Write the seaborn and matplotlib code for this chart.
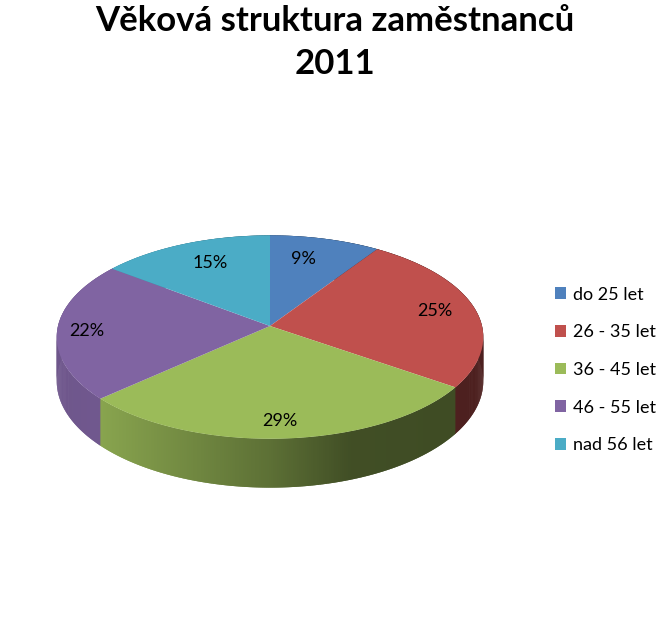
import numpy as np
import matplotlib
matplotlib.use("Agg")
import matplotlib.pyplot as plt
from matplotlib.transforms import Transform
import seaborn as sns

categories = ["do 25 let", "26 - 35 let", "36 - 45 let", "46 - 55 let", "nad 56 let"]
values = [9.3, 25.4, 28.6, 22.1, 14.6]
hex_colors = ["#4F81BD", "#C0504D", "#9BBB59", "#8064A2", "#4BACC6"]
title = "Věková struktura zaměstnanců\n2011"

sns.set_theme(style="white")
plt.rcParams["font.family"] = ["Lato", "DejaVu Sans"]
palette = sns.color_palette(hex_colors)

W, H = 666, 630
CX, CY = 270, 326      # pie apex in pixels
RX, RY, K = 212.0, 100.5, 0.109   # perspective of the tilted disc
DEPTH = 43.5
label_nudge = [(-12, 4), (1, 0), (-2, 7), (-13, 2), (10, 4)]


class Tilt(Transform):
    input_dims = output_dims = 2
    is_separable = False

    def transform_non_affine(self, xy):
        xy = np.asarray(xy, float)
        d = 1 + K * xy[:, 1]
        return np.column_stack([RX * xy[:, 0] / d, RY * xy[:, 1] / d])


def shade(xpix):
    """Wall brightness along the screen x (pixel offset from the apex)."""
    return np.interp(xpix, [-213, -170, 0, 80, 213], [0.86, 0.88, 0.60, 0.42, 0.40])


fig = plt.figure(figsize=(W / 100, H / 100), dpi=100, facecolor="white")
ax = fig.add_axes([0, 0, 1, 1])

wedges, _, pct = ax.pie(values, colors=palette, startangle=90, counterclock=False,
                        autopct="%.0f%%", pctdistance=0.8, radius=1,
                        textprops=dict(fontsize=13, color="black"),
                        wedgeprops=dict(linewidth=0, zorder=5))
ax.set_aspect("auto")
ax.set_xlim(-CX, W - CX)
ax.set_ylim(-(H - CY), CY)
ax.axis("off")

tilt = Tilt()
for w in wedges:
    w.set_transform(tilt + ax.transData)
for t, (dx, dy) in zip(pct, label_nudge):
    x, y = tilt.transform(np.array([t.get_position()]))[0]
    t.set_position((x + dx, y - dy))
    t.set_zorder(8)

# side wall: overlapping strips below the rim, shaded by screen position
edges = np.cumsum([0] + values) / sum(values) * 2 * np.pi
step = 1 / 120
for a0, a1, col in zip(edges[:-1], edges[1:], palette):
    n = max(3, int((a1 - a0) / step))
    angs = np.linspace(a0, a1 + step, n)
    unit = np.column_stack([np.sin(angs), np.cos(angs)])
    rim = tilt.transform(unit)
    drop = DEPTH / (1 + K * unit[:, 1])
    for i in range(n - 1):
        j = min(i + 2, n - 1)
        f = float(shade((rim[i, 0] + rim[i + 1, 0]) / 2))
        c = tuple(v * f for v in col)
        ax.fill([rim[i, 0], rim[j, 0], rim[j, 0], rim[i, 0]],
                [rim[i, 1], rim[j, 1], rim[j, 1] - drop[j], rim[i, 1] - drop[i]],
                color=c, lw=0, zorder=2)

fig.text(335 / W, 1 - 42.5 / H, title, ha="center", va="center",
         fontsize=25, fontweight="bold", color="black", linespacing=1.44)

ax.legend(wedges, categories, loc="center left",
          bbox_to_anchor=(555 / W, 1 - 370 / H), frameon=False,
          fontsize=13, labelspacing=1.2, handlelength=0.62, handleheight=0.62,
          handletextpad=0.39, borderpad=0, borderaxespad=0, labelcolor="black")

fig.savefig("out.png", dpi=100, facecolor="white")
